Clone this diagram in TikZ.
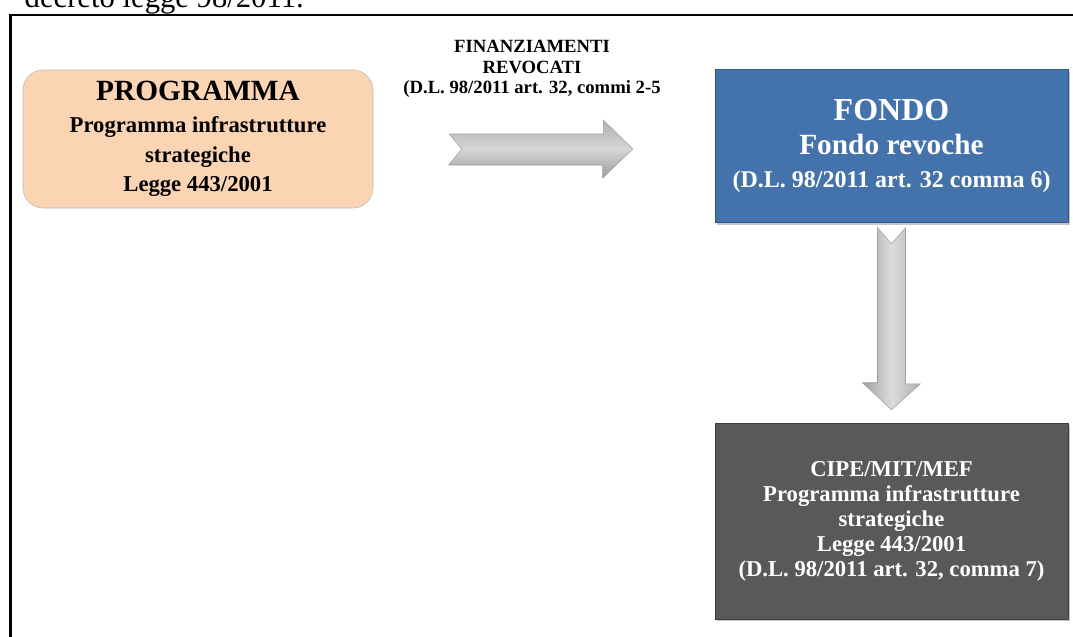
\documentclass[tikz,border=0pt]{standalone}
\usepackage{fontspec}
\setmainfont{Liberation Serif}
\usetikzlibrary{calc,shadows}
\definecolor{progfill}{RGB}{251,212,180}
\definecolor{fondofill}{RGB}{68,114,170}
\definecolor{cipefill}{RGB}{89,89,89}
\tikzset{
  box/.style={minimum width=264.75pt, align=center, inner sep=0pt},
  darkbox/.style={box, text=white, drop shadow={shadow xshift=1.5pt, shadow yshift=-1.5pt, opacity=0.45}},
  bigarrow/.style={draw=gray!75, line width=0.4pt}
}
\begin{document}
\begin{tikzpicture}[x=0.75pt, y=-0.75pt]
    \useasboundingbox (0,0) rectangle (1073,636);
    \node[anchor=base west, font=\fontsize{23}{23}\selectfont] (caption) at (20,7) {decreto legge 98/2011.};
    \draw[line width=1.8pt] (10.5,640) -- (10.5,14.7) -- (1080,14.7);
    \node[box, fill=progfill, draw=gray!55, rounded corners=15pt,
          minimum width=262.5pt, minimum height=103.5pt,
          font=\bfseries\fontsize{17}{22}\selectfont] (prog) at (198,139)
      {{\fontsize{22}{22}\selectfont PROGRAMMA}\\[2pt]
       Programma infrastrutture\\strategiche\\Legge 443/2001};
    \node[darkbox, fill=fondofill, draw=fondofill!75!black, minimum height=114.75pt,
          font=\bfseries\fontsize{22}{27.75}\selectfont] (fondo) at (891.5,146)
      {{\fontsize{24}{24}\selectfont FONDO}\\[-2pt]Fondo revoche\\[-3pt]
       {\fontsize{18}{18}\selectfont (D.L. 98/2011 art. 32 comma 6)}};
    \node[darkbox, fill=cipefill, draw=cipefill!70!black, minimum height=147pt,
          font=\bfseries\fontsize{17}{18.75}\selectfont] (cipe) at (891.5,521)
      {CIPE/MIT/MEF\\Programma infrastrutture\\strategiche\\Legge 443/2001\\
       (D.L. 98/2011 art. 32, comma 7)};
    \node[align=center, font=\bfseries\fontsize{14}{15.2}\selectfont] (revocati) at (532,69)
      {FINANZIAMENTI\\REVOCATI\\(D.L. 98/2011 art. 32, commi 2-5};
    \coordinate (rtail) at ($(prog.east)+(76,10)$);
    \coordinate (rtip) at ($(fondo.west)+(-82,3)$);
    \coordinate (dtail) at ($(fondo.south)+(0,5)$);
    \coordinate (dtip) at ($(cipe.north)+(0,-13)$);
    \draw[bigarrow, top color=gray!62, bottom color=gray!78, middle color=gray!32]
      ($(rtail)+(0,-15)$) -- ++(154,0) -- ++(0,-14) -- (rtip) -- ++(-30,29)
      -- ++(0,-13) -- ++(-154,0) -- ++(13,-16) -- cycle;
    \draw[bigarrow, left color=gray!72, right color=gray!62, middle color=gray!28]
      ($(dtail)+(-14,0)$) -- ++(14,16) -- ++(14,-16) -- ++(0,156) -- ++(15,0)
      -- (dtip) -- ++(-29,-27) -- ++(15,0) -- cycle;
  \end{tikzpicture}
\end{document}
